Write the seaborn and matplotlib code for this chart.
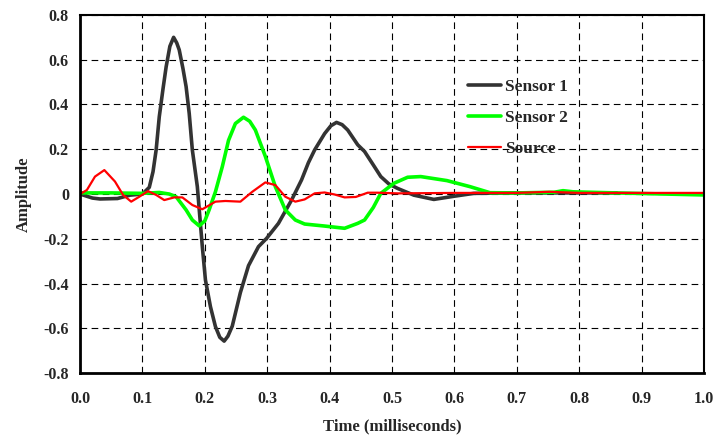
import numpy as np
import pandas as pd
import matplotlib
matplotlib.use("Agg")
import matplotlib.pyplot as plt
from matplotlib.ticker import FixedLocator, FuncFormatter
import seaborn as sns

# Sensor 1
s1_t = [0, 0.02, 0.032, 0.06, 0.08, 0.1, 0.111, 0.117, 0.122, 0.127, 0.133, 0.138,
        0.144, 0.15, 0.155, 0.159, 0.165, 0.17, 0.175, 0.18, 0.188, 0.196, 0.201,
        0.209, 0.217, 0.224, 0.231, 0.237, 0.244, 0.257, 0.27, 0.286, 0.299, 0.318,
        0.339, 0.355, 0.366, 0.376, 0.392, 0.402, 0.411, 0.42, 0.429, 0.445, 0.456,
        0.47, 0.482, 0.495, 0.509, 0.535, 0.567, 0.599, 0.631, 0.7, 0.8, 0.86]
s1_v = [0, -0.018, -0.022, -0.02, -0.005, 0, 0.03, 0.1, 0.197, 0.345, 0.47, 0.568,
        0.66, 0.70, 0.675, 0.644, 0.56, 0.48, 0.36, 0.197, 0.033, -0.235, -0.384,
        -0.503, -0.592, -0.64, -0.657, -0.635, -0.59, -0.44, -0.32, -0.235, -0.198, -0.131,
        -0.027, 0.063, 0.14, 0.197, 0.27, 0.305, 0.32, 0.31, 0.286, 0.22, 0.19,
        0.13, 0.078, 0.045, 0.025, -0.005, -0.024, -0.01, 0.003, 0.005, 0.005, 0.005]

# Sensor 2
s2_t = [0, 0.05, 0.1, 0.127, 0.143, 0.154, 0.17, 0.18, 0.191, 0.2, 0.207, 0.217,
        0.228, 0.238, 0.249, 0.262, 0.272, 0.281, 0.297, 0.313, 0.329, 0.345, 0.36,
        0.392, 0.424, 0.445, 0.456, 0.47, 0.482, 0.503, 0.525, 0.546, 0.588, 0.625,
        0.657, 0.7, 0.76, 0.774, 0.79, 0.86, 1.0]
s2_v = [0.005, 0.005, 0.003, 0.007, 0.0, -0.012, -0.071, -0.116, -0.142, -0.12, -0.07,
        0.01, 0.122, 0.24, 0.315, 0.343, 0.325, 0.286, 0.168, 0.033, -0.071, -0.116,
        -0.134, -0.143, -0.153, -0.131, -0.116, -0.06, 0.003, 0.048, 0.075, 0.078, 0.06,
        0.033, 0.006, 0.005, 0.008, 0.015, 0.01, 0.005, -0.004]

# Source
src_t = [0, 0.011, 0.024, 0.039, 0.056, 0.069, 0.082, 0.095, 0.109, 0.122, 0.135,
         0.151, 0.164, 0.18, 0.196, 0.217, 0.233, 0.257, 0.276, 0.297, 0.313, 0.329,
         0.345, 0.36, 0.376, 0.392, 0.408, 0.424, 0.442, 0.461, 0.477, 0.509, 0.6,
         0.7, 0.752, 0.8, 0.9, 1.0]
src_v = [0, 0.018, 0.078, 0.107, 0.056, -0.004, -0.034, -0.012, 0.013, -0.004, -0.027,
         -0.015, -0.015, -0.049, -0.068, -0.034, -0.031, -0.034, 0.01, 0.052, 0.04,
         -0.012, -0.034, -0.024, 0.003, 0.007, -0.002, -0.015, -0.013, 0.006, 0.006,
         0.003, 0.005, 0.005, 0.01, 0.005, 0.005, 0.005]

x_ticks = [0.0, 0.1, 0.2, 0.3, 0.4, 0.5, 0.6, 0.7, 0.8, 0.9, 1.0]
y_ticks = [-0.8, -0.6, -0.4, -0.2, 0, 0.2, 0.4, 0.6, 0.8]

sns.set_style("white")
plt.rcParams['font.family'] = ['Liberation Serif', 'DejaVu Serif']
plt.rcParams['font.weight'] = 'bold'

fig = plt.figure(figsize=(7.17, 4.4), dpi=100)
ax = fig.add_axes([0.1116, 0.152, 0.8703, 0.814])

sns.lineplot(x=s1_t, y=s1_v, ax=ax, color='#333333', lw=2.6, label='Sensor 1')
sns.lineplot(x=s2_t, y=s2_v, ax=ax, color='#00ff00', lw=2.6, label='Sensor 2')
sns.lineplot(x=src_t, y=src_v, ax=ax, color='#ff0000', lw=1.6, label='Source')

ax.set_xlim(0, 1.0)
ax.set_ylim(-0.8, 0.8)
ax.xaxis.set_major_locator(FixedLocator(x_ticks))
ax.yaxis.set_major_locator(FixedLocator(y_ticks))
ax.xaxis.set_major_formatter(FuncFormatter(lambda v, p: '%.1f' % v))
ax.yaxis.set_major_formatter(FuncFormatter(lambda v, p: '0' if abs(v) < 1e-9 else '%.1f' % v))
ax.grid(True, color='black', lw=0.8, ls=(0, (6, 4)))
ax.tick_params(axis='x', direction='inout', length=6, width=1, labelsize=11.5, pad=10)
ax.tick_params(axis='y', direction='out', length=4, width=1, labelsize=11.5, pad=4)
for sp in ax.spines.values():
    sp.set_visible(True)
    sp.set_color('black')
    sp.set_linewidth(1.5)
ax.spines['left'].set_linewidth(2)
ax.spines['bottom'].set_linewidth(2)

ax.set_xlabel('Time (milliseconds)', fontsize=12, fontweight='bold', labelpad=8)
ax.set_ylabel('Amplitude', fontsize=12, fontweight='bold', labelpad=8)

leg = ax.legend(loc='upper left', bbox_to_anchor=(0.597, 0.865), frameon=False,
                fontsize=12.5, handlelength=1.9, labelspacing=0.85, handletextpad=0.2)
for t in leg.get_texts():
    t.set_fontweight('bold')

fig.savefig('out.png', dpi=100)
